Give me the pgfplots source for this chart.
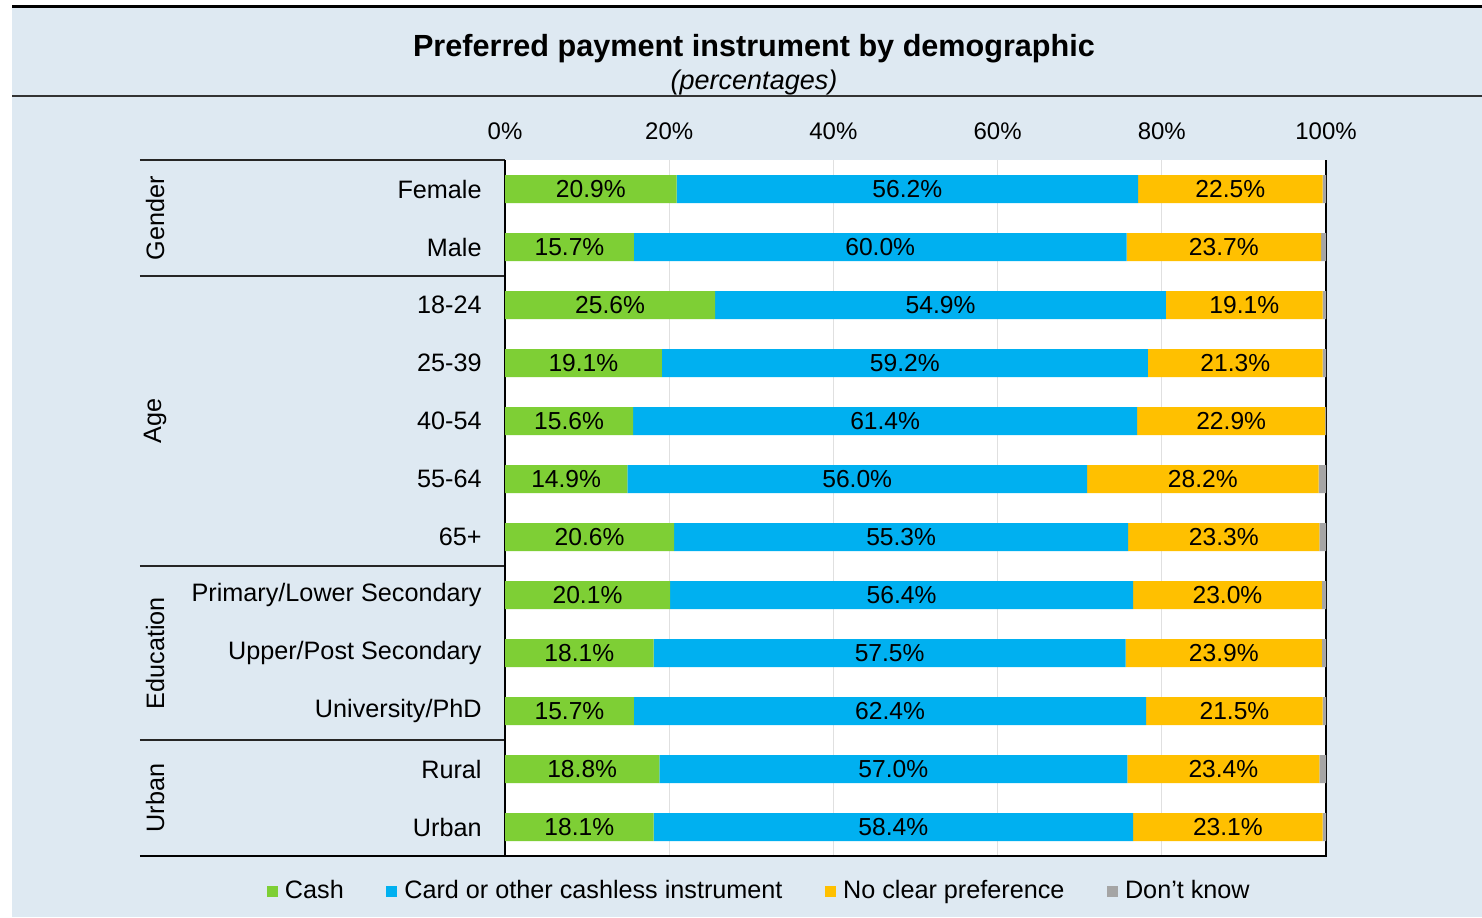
\documentclass[border=0pt]{standalone}
\usepackage{pgfplots}
\pgfplotsset{compat=1.18}
\usepackage{pgfplotstable}
\usepackage{fontspec}
\setmainfont{Liberation Sans}

\definecolor{bg}{RGB}{222,233,242}
\definecolor{cashc}{RGB}{126,207,53}
\definecolor{cardc}{RGB}{0,176,240}
\definecolor{nonec}{RGB}{255,192,0}
\definecolor{dkc}{RGB}{165,165,165}

% rows: 0 = Female ... 11 = Urban
\pgfplotstableread{
row cash card none dk
0  20.9 56.2 22.5 0.4
1  15.7 60.0 23.7 0.6
2  25.6 54.9 19.1 0.4
3  19.1 59.2 21.3 0.4
4  15.6 61.4 22.9 0.1
5  14.9 56.0 28.2 0.9
6  20.6 55.3 23.3 0.8
7  20.1 56.4 23.0 0.5
8  18.1 57.5 23.9 0.5
9  15.7 62.4 21.5 0.4
10 18.8 57.0 23.4 0.8
11 18.1 58.4 23.1 0.4
}\data

\pgfplotsset{
  base/.style={
    at={(252.5pt,30.5pt)}, anchor=south west,
    scale only axis, width=410.5pt, height=348pt,
    xmin=0, xmax=100, ymin=-0.5, ymax=11.5, y dir=reverse,
    /pgf/number format/assume math mode=true,
  },
  lbl/.style={
    draw=none, mark=none,
    point meta=explicit,
    nodes near coords={\pgfmathprintnumber[fixed,fixed zerofill,precision=1]{\pgfplotspointmeta}\%},
    every node near coord/.append style={anchor=center, text=black, font=\fontsize{12.3}{14}\selectfont},
  },
}

\begin{document}
\begin{tikzpicture}
\path[use as bounding box] (0,0) rectangle (741pt,458.5pt);
\fill[bg] (6pt,0) rectangle (741pt,455pt);
\draw[line width=1.5pt] (6pt,455pt) -- (741pt,455pt);
\draw[line width=0.6pt, black!80] (6pt,410.5pt) -- (741pt,410.5pt);
\node[font=\fontsize{15.3}{17}\selectfont\bfseries] at (377pt,434pt) {Preferred payment instrument by demographic};
\node[font=\fontsize{13.5}{15}\selectfont\itshape] at (377pt,417pt) {(percentages)};

\begin{axis}[
  base,
  xbar stacked, bar width=14pt,
  clip=false,
  axis background/.style={fill=white},
  axis line style={draw=none},
  xtick={0,20,...,100}, xticklabel pos=upper,
  xticklabel={\pgfmathprintnumber{\tick}\%},
  ytick={0,...,11},
  yticklabels={Female,Male,18-24,25-39,40-54,55-64,65+,Primary/Lower Secondary,Upper/Post Secondary,University/PhD,Rural,Urban},
  major tick length=0pt,
  xticklabel style={inner sep=0pt, font=\fontsize{12}{14}\selectfont},
  yticklabel style={inner sep=0pt, font=\fontsize{12.6}{14}\selectfont},
  x tick label style={yshift=10pt},
  y tick label style={xshift=-11.5pt},
  xmajorgrids, grid style={black!12, line width=0.6pt},
  font=\fontsize{12.6}{14}\selectfont,
  legend style={at={(0.311,-0.0503)}, anchor=center, draw=none, fill=none,
    legend columns=4, font=\fontsize{12.6}{14}\selectfont,
    /tikz/every odd column/.append style={column sep=1.5pt},
    /tikz/every even column/.append style={column sep=19.3pt}},
  legend image code/.code={\fill[#1] (0pt,-2.75pt) rectangle (5.5pt,2.75pt);},
]
\addplot[fill=cashc, draw=none] table[x=cash, y=row] {\data};
\addplot[fill=cardc, draw=none] table[x=card, y=row] {\data};
\addplot[fill=nonec, draw=none] table[x=none, y=row] {\data};
\addplot[fill=dkc, draw=none] table[x=dk, y=row] {\data};
\legend{Cash, Card or other cashless instrument, No clear preference, Don't know}

% frame: left, bottom, right
\draw[black, line width=0.8pt] (axis cs:0,-0.5) -- (axis cs:0,11.5) -- (axis cs:100,11.5) -- (axis cs:100,-0.5);
\draw[black, line width=0.8pt] ([xshift=-182.5pt]axis cs:0,11.5) -- (axis cs:0,11.5);
\pgfplotsinvokeforeach{-0.5,1.5,6.5,9.5}{
  \draw[black!85, line width=0.8pt] ([xshift=-182.5pt]axis cs:0,#1) -- (axis cs:0,#1);
}
% group labels
\node[rotate=90] at ([xshift=-175pt]axis cs:0,0.5) {Gender};
\node[rotate=90] at ([xshift=-175pt]axis cs:0,4) {Age};
\node[rotate=90] at ([xshift=-175pt]axis cs:0,8) {Education};
\node[rotate=90] at ([xshift=-175pt]axis cs:0,10.5) {Urban};
\end{axis}

% value labels, centred in each segment
\begin{axis}[base, hide axis, clip=false]
\addplot[lbl] table[x expr=\thisrow{cash}/2, y=row, meta=cash] {\data};
\addplot[lbl] table[x expr=\thisrow{cash}+\thisrow{card}/2, y=row, meta=card] {\data};
\addplot[lbl] table[x expr=\thisrow{cash}+\thisrow{card}+\thisrow{none}/2, y=row, meta=none] {\data};
\end{axis}
\end{tikzpicture}
\end{document}
